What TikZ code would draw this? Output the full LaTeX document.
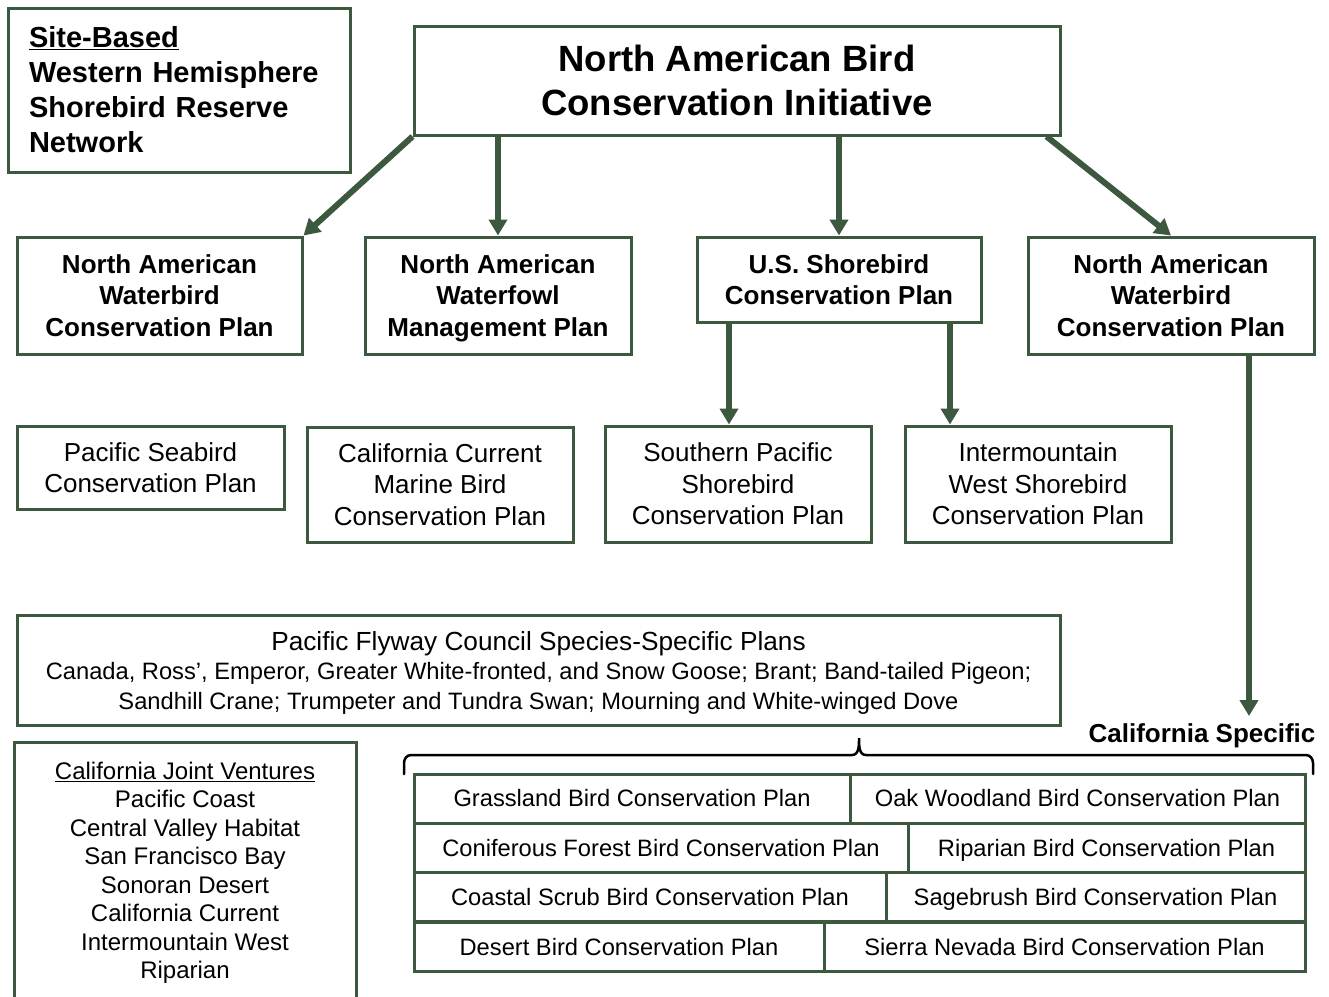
\documentclass[tikz,border=0pt]{standalone}
\usepackage{fontspec}
\setmainfont{Liberation Sans}
\usetikzlibrary{arrows.meta,calc}
\definecolor{dg}{RGB}{60,88,62}
\newcommand\tst{\rule{0pt}{0.966em}}
\newcommand\bst{\rule[-0.25em]{0pt}{0pt}}
\begin{document}
\begin{tikzpicture}[x=1pt,y=-1pt,
  box/.style={draw=dg,line width=3pt,inner sep=0pt,align=center},
  boldtxt/.style={font=\fontsize{26}{31.5}\selectfont\bfseries},
  regtxt/.style={font=\fontsize{26}{31.5}\selectfont},
  celltxt/.style={font=\fontsize{23.7}{28}\selectfont},
  arr/.style={draw=dg,line width=6pt,-{Triangle[length=16pt,width=18pt]}},
  bracestyle/.style={draw=black,line width=2.5pt,line cap=round}]
\useasboundingbox (0,0) rectangle (1329,996);

% top boxes
\node[box,minimum width=342pt,minimum height=164pt,text width=300pt,align=left,
  font=\fontsize{29}{35}\selectfont\bfseries] (site) at (179,90)
  {\tst\underline{Site-Based}\\Western Hemisphere\\Shorebird Reserve\\Network\bst};
\node[box,minimum width=646pt,minimum height=109pt,
  font=\fontsize{36.5}{44}\selectfont\bfseries] (main) at (737,80.5)
  {\tst North American Bird\\Conservation Initiative\bst};

% second row
\node[box,boldtxt,minimum width=285pt,minimum height=117pt] (A) at (159.5,295.5)
  {\tst North American\\Waterbird\\Conservation Plan\bst};
\node[box,boldtxt,minimum width=266pt,minimum height=117pt] (B) at (498,295.5)
  {\tst North American\\Waterfowl\\Management Plan\bst};
\node[box,boldtxt,minimum width=284pt,minimum height=85pt] (C) at (839,279.5)
  {\tst U.S. Shorebird\\Conservation Plan\bst};
\node[box,boldtxt,minimum width=286pt,minimum height=117pt] (D) at (1171,295.5)
  {\tst North American\\Waterbird\\Conservation Plan\bst};

% third row
\node[box,regtxt,minimum width=267pt,minimum height=83pt] (PS) at (150.5,467.5)
  {\tst Pacific Seabird\\Conservation Plan\bst};
\node[box,regtxt,minimum width=266pt,minimum height=115pt] (CC) at (440,484.5)
  {\tst California Current\\Marine Bird\\Conservation Plan\bst};
\node[box,regtxt,minimum width=266pt,minimum height=116pt] (SP) at (738,484)
  {\tst Southern Pacific\\Shorebird\\Conservation Plan\bst};
\node[box,regtxt,minimum width=266pt,minimum height=116pt] (IW) at (1038,484)
  {\tst Intermountain\\West Shorebird\\Conservation Plan\bst};

% Pacific Flyway
\node[box,minimum width=1043pt,minimum height=110pt,
  font=\fontsize{23.7}{29.5}\selectfont] (PF) at (538.5,670)
  {{\fontsize{26.2}{31}\selectfont\tst Pacific Flyway Council Species-Specific Plans}\\
   Canada, Ross', Emperor, Greater White-fronted, and Snow Goose; Brant; Band-tailed Pigeon;\\
   Sandhill Crane; Trumpeter and Tundra Swan; Mourning and White-winged Dove\bst};

% California Joint Ventures
\node[box,minimum width=342pt,minimum height=270pt] (JV) at (185,877) {};
\node[align=center,inner sep=0pt,font=\fontsize{24}{28.5}\selectfont] (JVt) at (185,870.5)
  {\tst\underline{California Joint Ventures}\\Pacific Coast\\Central Valley Habitat\\San Francisco Bay\\Sonoran Desert\\California Current\\Intermountain West\\Riparian\bst};

% California Specific
\node[inner sep=0pt,font=\fontsize{26}{31}\selectfont\bfseries] (casp) at (1202,733) {\tst California Specific\bst};

% grid
\node[box,celltxt,minimum width=436pt,minimum height=49pt] (g11) at (632,798.5) {\tst Grassland Bird Conservation Plan\bst};
\node[box,celltxt,minimum width=455pt,minimum height=49pt] (g12) at (1077.5,798.5) {\tst Oak Woodland Bird Conservation Plan\bst};
\node[box,celltxt,minimum width=494pt,minimum height=49pt] (g21) at (661,847.5) {\tst Coniferous Forest Bird Conservation Plan\bst};
\node[box,celltxt,minimum width=397pt,minimum height=49pt] (g22) at (1106.5,847.5) {\tst Riparian Bird Conservation Plan\bst};
\node[box,celltxt,minimum width=472pt,minimum height=49pt] (g31) at (650,897) {\tst Coastal Scrub Bird Conservation Plan\bst};
\node[box,celltxt,minimum width=419pt,minimum height=49pt] (g32) at (1095.5,897) {\tst Sagebrush Bird Conservation Plan\bst};
\node[box,celltxt,minimum width=410pt,minimum height=49pt] (g41) at (619,946.5) {\tst Desert Bird Conservation Plan\bst};
\node[box,celltxt,minimum width=481pt,minimum height=49pt] (g42) at (1064.5,946.5) {\tst Sierra Nevada Bird Conservation Plan\bst};

% arrows
\draw[arr] (main.south west) -- (A.north east);
\draw[arr] (main.south -| B.north) -- (B.north);
\draw[arr] (main.south -| C.north) -- (C.north);
\coordinate (m4) at ($(main.south east)+(-15,0)$);
\draw[arr] (m4) -- (D.north);
\coordinate (c1) at ($(SP.north)+(-9,0)$);
\draw[arr] (c1 |- C.south) -- (c1);
\coordinate (c2) at ($(IW.north)+(-88,0)$);
\draw[arr] (c2 |- C.south) -- (c2);
\coordinate (c3) at ($(D.south)+(78,0)$);
\coordinate (c4) at (1249,716);
\draw[arr] (c3) -- (c4);

% brace
\coordinate (brL) at (404,774);
\coordinate (brR) at (1313,774);
\draw[bracestyle] (brL) -- (404,763) to[out=90,in=180] (411,755) -- (852,755)
  to[out=0,in=-90] (859,738) to[out=-90,in=180] (866,755) -- (1306,755)
  to[out=0,in=90] (1313,763) -- (brR);
\end{tikzpicture}
\end{document}
